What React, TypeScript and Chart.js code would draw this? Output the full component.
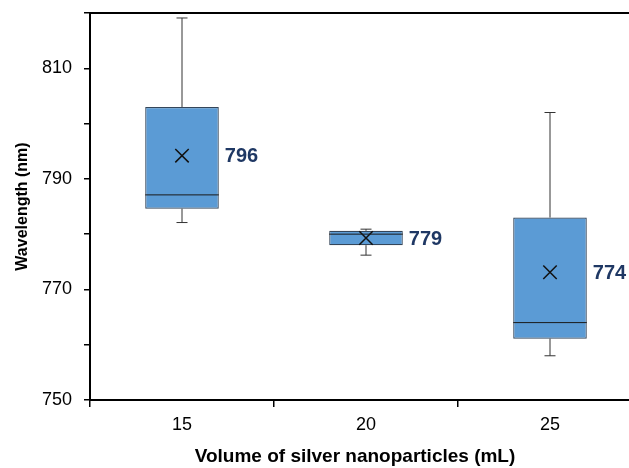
import React, { useEffect, useRef } from "react";
import { Chart, registerables } from "chart.js";

Chart.register(...registerables);

const categories = ["15", "20", "25"];
const whiskerMin = [782.1, 776.2, 758.0];
const q1 = [784.6, 778.0, 761.1];
const median = [787.1, 780.0, 764.0];
const q3 = [803.0, 780.6, 783.0];
const whiskerMax = [819.1, 780.9, 802.0];
const means = [794.2, 779.3, 773.1];
const valueLabels = ["796", "779", "774"];
const yTickLabels = [750, 770, 790, 810];

const FONT = "'Liberation Sans', Arial, sans-serif";

const boxPlugin = {
  id: "boxExtras",
  afterDatasetsDraw(chart: any) {
    const ctx = chart.ctx;
    const y = chart.scales.y;
    const meta = chart.getDatasetMeta(0);
    ctx.save();
    meta.data.forEach((bar: any, i: number) => {
      const x = bar.x;
      const half = bar.width / 2;
      const capHalf = 5.5;
      ctx.strokeStyle = "#333";
      ctx.lineWidth = 1;
      const yq3 = y.getPixelForValue(q3[i]);
      const yMax = y.getPixelForValue(whiskerMax[i]);
      const yq1 = y.getPixelForValue(q1[i]);
      const yMin = y.getPixelForValue(whiskerMin[i]);
      ctx.beginPath();
      ctx.moveTo(x, yq3);
      ctx.lineTo(x, yMax);
      ctx.moveTo(x - capHalf, yMax);
      ctx.lineTo(x + capHalf, yMax);
      ctx.moveTo(x, yq1);
      ctx.lineTo(x, yMin);
      ctx.moveTo(x - capHalf, yMin);
      ctx.lineTo(x + capHalf, yMin);
      ctx.stroke();
      const yMed = y.getPixelForValue(median[i]);
      ctx.strokeStyle = "#1a1a1a";
      ctx.beginPath();
      ctx.moveTo(x - half, yMed);
      ctx.lineTo(x + half, yMed);
      ctx.stroke();
      ctx.fillStyle = "#1F3864";
      ctx.font = "bold 20px " + FONT;
      ctx.textAlign = "left";
      ctx.textBaseline = "middle";
      ctx.fillText(valueLabels[i], x + half + 6, y.getPixelForValue(means[i]) + 1);
    });
    ctx.restore();
  },
  afterDraw(chart: any) {
    const ctx = chart.ctx;
    const a = chart.chartArea;
    ctx.save();
    ctx.strokeStyle = "#000";
    ctx.lineWidth = 2;
    ctx.beginPath();
    ctx.moveTo(a.left, a.top);
    ctx.lineTo(a.right, a.top);
    ctx.stroke();
    ctx.fillStyle = "#000";
    ctx.font = "bold 19px " + FONT;
    ctx.textAlign = "center";
    ctx.textBaseline = "middle";
    ctx.fillText("Volume of silver nanoparticles (mL)", 355, 457);
    ctx.restore();
  },
};

export default function App() {
  const ref = useRef<HTMLCanvasElement | null>(null);
  useEffect(() => {
    document.body.style.margin = "0";
    document.body.style.overflow = "hidden";
    const chart = new Chart(ref.current as HTMLCanvasElement, {
      type: "bar",
      data: {
        labels: categories,
        datasets: [
          {
            type: "bar",
            order: 2,
            data: categories.map((_, i) => [q1[i], q3[i]]) as any,
            backgroundColor: "#5B9BD5",
            borderColor: "#34465a",
            borderWidth: 1.2,
            borderSkipped: false,
            barPercentage: 0.4,
            categoryPercentage: 1,
          },
          {
            type: "line",
            order: 1,
            data: means,
            showLine: false,
            pointStyle: "crossRot",
            pointRadius: 9.5,
            pointBorderColor: "#111",
            borderColor: "#111",
            pointBorderWidth: 1.5,
            pointBackgroundColor: "transparent",
          } as any,
        ],
      },
      options: {
        animation: false,
        responsive: false,
        layout: { autoPadding: false, padding: { left: 0, top: 13, right: 8, bottom: 0 } },
        plugins: { legend: { display: false }, tooltip: { enabled: false } },
        scales: {
          x: {
            offset: true,
            grid: {
              offset: true,
              drawOnChartArea: false,
              color: "#000",
              lineWidth: 1.5,
              tickLength: 7,
            },
            border: { color: "#000", width: 2 },
            ticks: {
              color: "#000",
              padding: 7,
              font: { family: FONT, size: 18 },
            },
            afterFit(s: any) {
              s.height = 68;
              s.paddingLeft = 0;
              s.paddingRight = 0;
            },
          },
          y: {
            min: 750,
            max: 820,
            grid: {
              drawOnChartArea: false,
              color: "#000",
              lineWidth: 1.5,
              tickLength: 6,
            },
            border: { color: "#000", width: 2 },
            ticks: {
              stepSize: 10,
              color: "#000",
              padding: 12,
              font: { family: FONT, size: 18 },
              callback: (v: any) => (yTickLabels.includes(Number(v)) ? String(v) : ""),
            },
            title: {
              display: true,
              text: "Wavelength (nm)",
              color: "#000",
              font: { family: FONT, size: 16, weight: "bold" },
              padding: { top: 13, bottom: 0 },
            },
            afterFit(s: any) {
              s.width = 90;
              s.paddingTop = 0;
              s.paddingBottom = 0;
            },
          },
        },
      },
      plugins: [boxPlugin],
    });
    return () => chart.destroy();
  }, []);
  return (
    <div style={{ width: 650, height: 468 }}>
      <canvas ref={ref} width={650} height={468} style={{ display: "block" }} />
    </div>
  );
}
